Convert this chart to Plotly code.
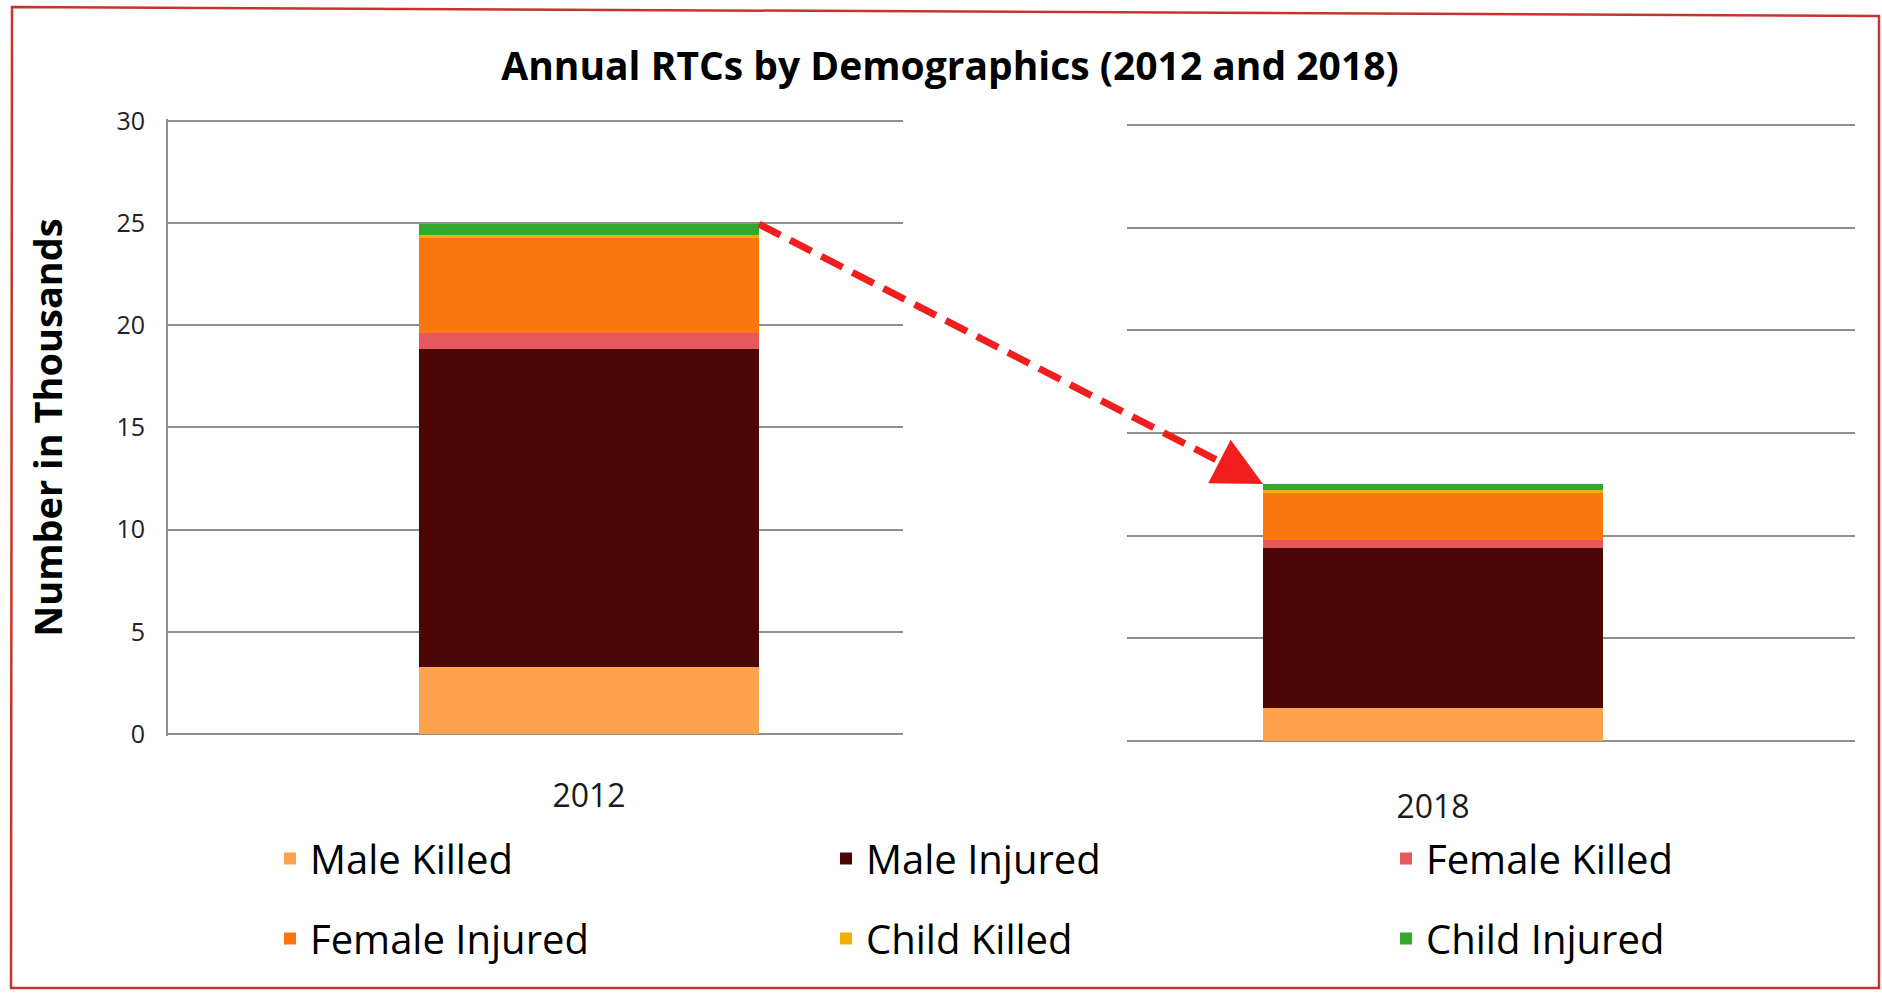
import plotly.graph_objects as go

# ---- data (thousands) ----
years = ["2012", "2018"]
series_names = ["Male Killed", "Male Injured", "Female Killed",
                "Female Injured", "Child Killed", "Child Injured"]
male_killed = [3.29, 1.60]
male_injured = [15.57, 7.80]
female_killed = [0.76, 0.40]
female_injured = [4.64, 2.29]
child_killed = [0.17, 0.13]
child_injured = [0.52, 0.30]
y_ticks = [0, 5, 10, 15, 20, 25, 30]

series_values = [male_killed, male_injured, female_killed,
                 female_injured, child_killed, child_injured]
series_colors = ["#FCA24C", "#4B0606", "#E7575E", "#FC760F", "#F3AE06", "#32A82C"]
# legend column for each series (three columns, two rows)
legend_ids = ["legend", "legend2", "legend3", "legend", "legend2", "legend3"]

W, H = 1882, 997
FONT = "Open Sans"

# two panels, one per year (margins are zero, so paper == page)
PAD = 0.12   # small padding so the 0 and 30 gridlines are drawn
x1_dom = [168 / W, 903 / W]
x2_dom = [1127 / W, 1855 / W]
y1_px = (734, 121)
y2_px = (741, 125)
y1_scale = (y1_px[0] - y1_px[1]) / 30
y2_scale = (y2_px[0] - y2_px[1]) / 30
y1_dom = [1 - (y1_px[0] + PAD * y1_scale) / H, 1 - (y1_px[1] - PAD * y1_scale) / H]
y2_dom = [1 - (y2_px[0] + PAD * y2_scale) / H, 1 - (y2_px[1] - PAD * y2_scale) / H]
x1_rng = [-0.9906, 0.7388]
x2_rng = [-0.72, 0.993]
y_rng = [-PAD, 30 + PAD]
BAR_W = 0.8

fig = go.Figure()
for name, vals, col, lg in zip(series_names, series_values, series_colors, legend_ids):
    fig.add_trace(go.Bar(
        x=[years[0]], y=[vals[0]], name=name, marker_color=col,
        marker_line_width=0, width=BAR_W, xaxis="x", yaxis="y",
        legend=lg, legendgroup=name, showlegend=True,
    ))
    fig.add_trace(go.Bar(
        x=[years[1]], y=[vals[1]], name=name, marker_color=col,
        marker_line_width=0, width=BAR_W, xaxis="x2", yaxis="y2",
        legend=lg, legendgroup=name, showlegend=False,
    ))


def to_paper(v, rng, dom):
    return dom[0] + (v - rng[0]) / (rng[1] - rng[0]) * (dom[1] - dom[0])


# trend arrow from top of the 2012 bar to top of the 2018 bar
total_2012 = sum(v[0] for v in series_values)
total_2018 = sum(v[1] for v in series_values)
tx = to_paper(BAR_W / 2, x1_rng, x1_dom)
ty = to_paper(total_2012, y_rng, y1_dom)
hx = to_paper(-BAR_W / 2, x2_rng, x2_dom)
hy = to_paper(total_2018, y_rng, y2_dom)
dx_px = (hx - tx) * W
dy_px = -(hy - ty) * H
length = (dx_px ** 2 + dy_px ** 2) ** 0.5
ux, uy = dx_px / length, dy_px / length
HEAD = 36
ex = hx - ux * HEAD / W
ey = hy + uy * HEAD / H

shapes = [
    dict(type="line", xref="paper", yref="paper", x0=tx, y0=ty, x1=ex, y1=ey,
         line=dict(color="#F01E1E", width=7, dash="24px,11px"), layer="above"),
    dict(type="path", xref="paper", yref="paper",
         path=f"M {12/W},{1-7/H} L {1879/W},{1-16/H} L {1879/W},{1-988/H} L {11/W},{1-988/H} Z",
         line=dict(color="#C8342C", width=2.5), fillcolor="rgba(0,0,0,0)"),
]

annotations = [
    dict(xref="paper", yref="paper", x=hx, y=hy, text="", showarrow=True,
         ax=-ux * (HEAD + 4), ay=-uy * (HEAD + 4), axref="pixel", ayref="pixel",
         arrowhead=2, arrowsize=1.4, arrowwidth=7, arrowcolor="#F01E1E", standoff=0),
]

grid = dict(showgrid=True, gridcolor="#8E8E8E", gridwidth=2, zeroline=False)

legend_common = dict(
    orientation="v", xref="paper", yref="paper", xanchor="left", yanchor="top",
    y=1 - 826 / H, bgcolor="rgba(0,0,0,0)", tracegroupgap=25,
    font=dict(family=FONT, size=40, color="#000000"),
)

fig.update_layout(
    width=W, height=H,
    margin=dict(l=0, r=0, t=0, b=0, autoexpand=False),
    paper_bgcolor="white", plot_bgcolor="white",
    barmode="stack",
    title=dict(text="<b>Annual RTCs by Demographics (2012 and 2018)</b>",
               x=950 / W, xanchor="center", y=1 - 66 / H, yanchor="middle",
               font=dict(family=FONT, size=39, color="#000000")),
    xaxis=dict(domain=x1_dom, range=x1_rng, type="category", showgrid=False,
               showline=False, ticks="", ticklabelstandoff=38, automargin=False,
               tickfont=dict(family=FONT, size=32, color="#1a1a1a")),
    xaxis2=dict(domain=x2_dom, range=x2_rng, type="category", showgrid=False,
                showline=False, ticks="", ticklabelstandoff=42, automargin=False,
                tickfont=dict(family=FONT, size=32, color="#1a1a1a"), anchor="y2"),
    yaxis=dict(domain=y1_dom, range=y_rng, tickvals=y_ticks, showline=True,
               linecolor="#8E8E8E", linewidth=2, ticks="", ticklabelstandoff=16,
               automargin=False, tickfont=dict(family=FONT, size=25, color="#222222"),
               title=dict(text="<b>Number in Thousands</b>", standoff=42,
                          font=dict(family=FONT, size=38, color="#000000")),
               **grid),
    yaxis2=dict(domain=y2_dom, range=y_rng, tickvals=y_ticks, showticklabels=False,
                showline=False, ticks="", automargin=False, anchor="x2", **grid),
    legend=dict(x=270 / W, **legend_common),
    legend2=dict(x=826 / W, **legend_common),
    legend3=dict(x=1386 / W, **legend_common),
    shapes=shapes,
    annotations=annotations,
    showlegend=True,
)

fig.write_html("out.html")
